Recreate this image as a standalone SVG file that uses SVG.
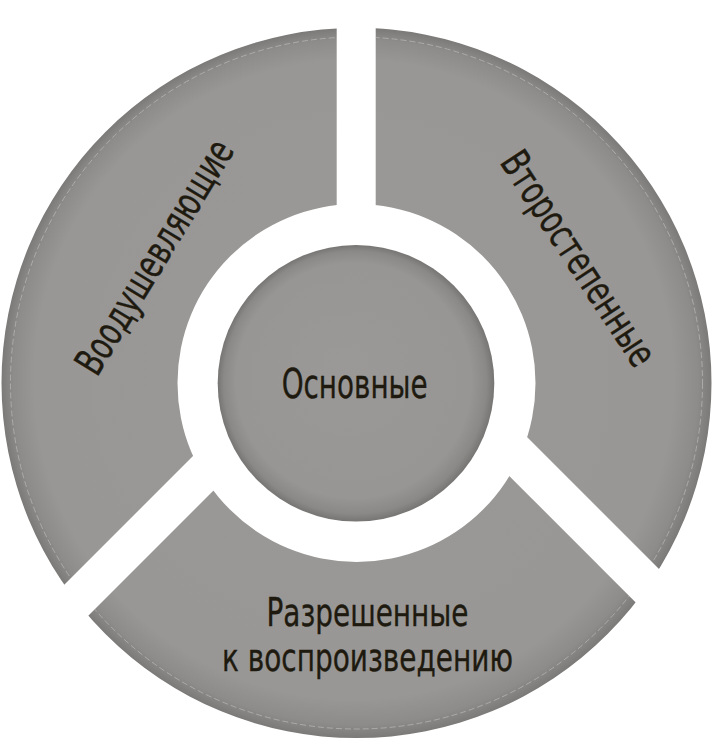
<svg xmlns="http://www.w3.org/2000/svg" width="713" height="740" viewBox="0 0 713 740">
  <style>
    .lbl { font-family: "DejaVu Sans", "Noto Sans", sans-serif; font-size: 40px; fill: #1e1a0f; stroke: #1e1a0f; stroke-width: 0.4; text-anchor: middle; }
    .lbl2 { font-size: 38.5px; }
    .rim { fill: none; stroke: #c9c8c6; stroke-width: 1; stroke-dasharray: 6 3; opacity: 0.55; }
  </style>
  <defs>
    <radialGradient id="ringGrad" gradientUnits="userSpaceOnUse" cx="356.5" cy="383" r="355" fx="330" fy="350">
      <stop offset="0" stop-color="#9b9997"/>
      <stop offset="0.9" stop-color="#999795"/>
      <stop offset="0.965" stop-color="#8e8c8a"/>
      <stop offset="1" stop-color="#7c7a78"/>
    </radialGradient>
    <radialGradient id="coreGrad" gradientUnits="userSpaceOnUse" cx="356" cy="383.3" r="138.3" fx="340" fy="365">
      <stop offset="0" stop-color="#9b9997"/>
      <stop offset="0.85" stop-color="#989694"/>
      <stop offset="0.95" stop-color="#8b8987"/>
      <stop offset="1" stop-color="#777573"/>
    </radialGradient>
    <path id="annulus" fill-rule="evenodd" d="M 1.5 383 A 355 355 0 1 0 711.5 383 A 355 355 0 1 0 1.5 383 Z M 177.5 383 A 179 179 0 1 1 535.5 383 A 179 179 0 1 1 177.5 383 Z"/>
    <clipPath id="clipLeft"><polygon points="-10,-10 336.7,-10 336.7,312.3 -10,659"/></clipPath>
    <clipPath id="clipRight"><polygon points="375.7,-10 723,-10 723,633 375.7,285.7"/></clipPath>
    <clipPath id="clipBottom"><polygon points="368.65,335.35 723,689.7 723,750 -10,750 -10,714"/></clipPath>
  </defs>

  <g id="connectors"></g>

  <g id="segment-left" clip-path="url(#clipLeft)">
    <use href="#annulus" fill="url(#ringGrad)"/>
    <circle class="rim" cx="356.5" cy="383" r="346"/>
  </g>
  <g id="segment-right" clip-path="url(#clipRight)">
    <use href="#annulus" fill="url(#ringGrad)"/>
    <circle class="rim" cx="356.5" cy="383" r="346"/>
  </g>
  <g id="segment-bottom" clip-path="url(#clipBottom)">
    <use href="#annulus" fill="url(#ringGrad)"/>
    <circle class="rim" cx="356.5" cy="383" r="346"/>
  </g>

  <g id="core">
    <circle cx="356" cy="383.3" r="138.3" fill="url(#coreGrad)"/>
    <text class="lbl" x="354.7" y="398" textLength="146" lengthAdjust="spacingAndGlyphs">Основные</text>
  </g>

  <g id="label-left">
    <text class="lbl" transform="translate(166 264) rotate(-58.7)" x="0" y="0" textLength="266" lengthAdjust="spacingAndGlyphs">Воодушевляющие</text>
  </g>
  <g id="label-right">
    <text class="lbl" transform="translate(567 266) rotate(56.7)" x="0" y="0" textLength="248" lengthAdjust="spacingAndGlyphs">Второстепенные</text>
  </g>
  <g id="label-bottom">
    <text class="lbl lbl2"><tspan x="367.5" y="626" textLength="202" lengthAdjust="spacingAndGlyphs">Разрешенные</tspan><tspan x="367.5" y="671" textLength="291" lengthAdjust="spacingAndGlyphs">к воспроизведению</tspan></text>
  </g>
</svg>
